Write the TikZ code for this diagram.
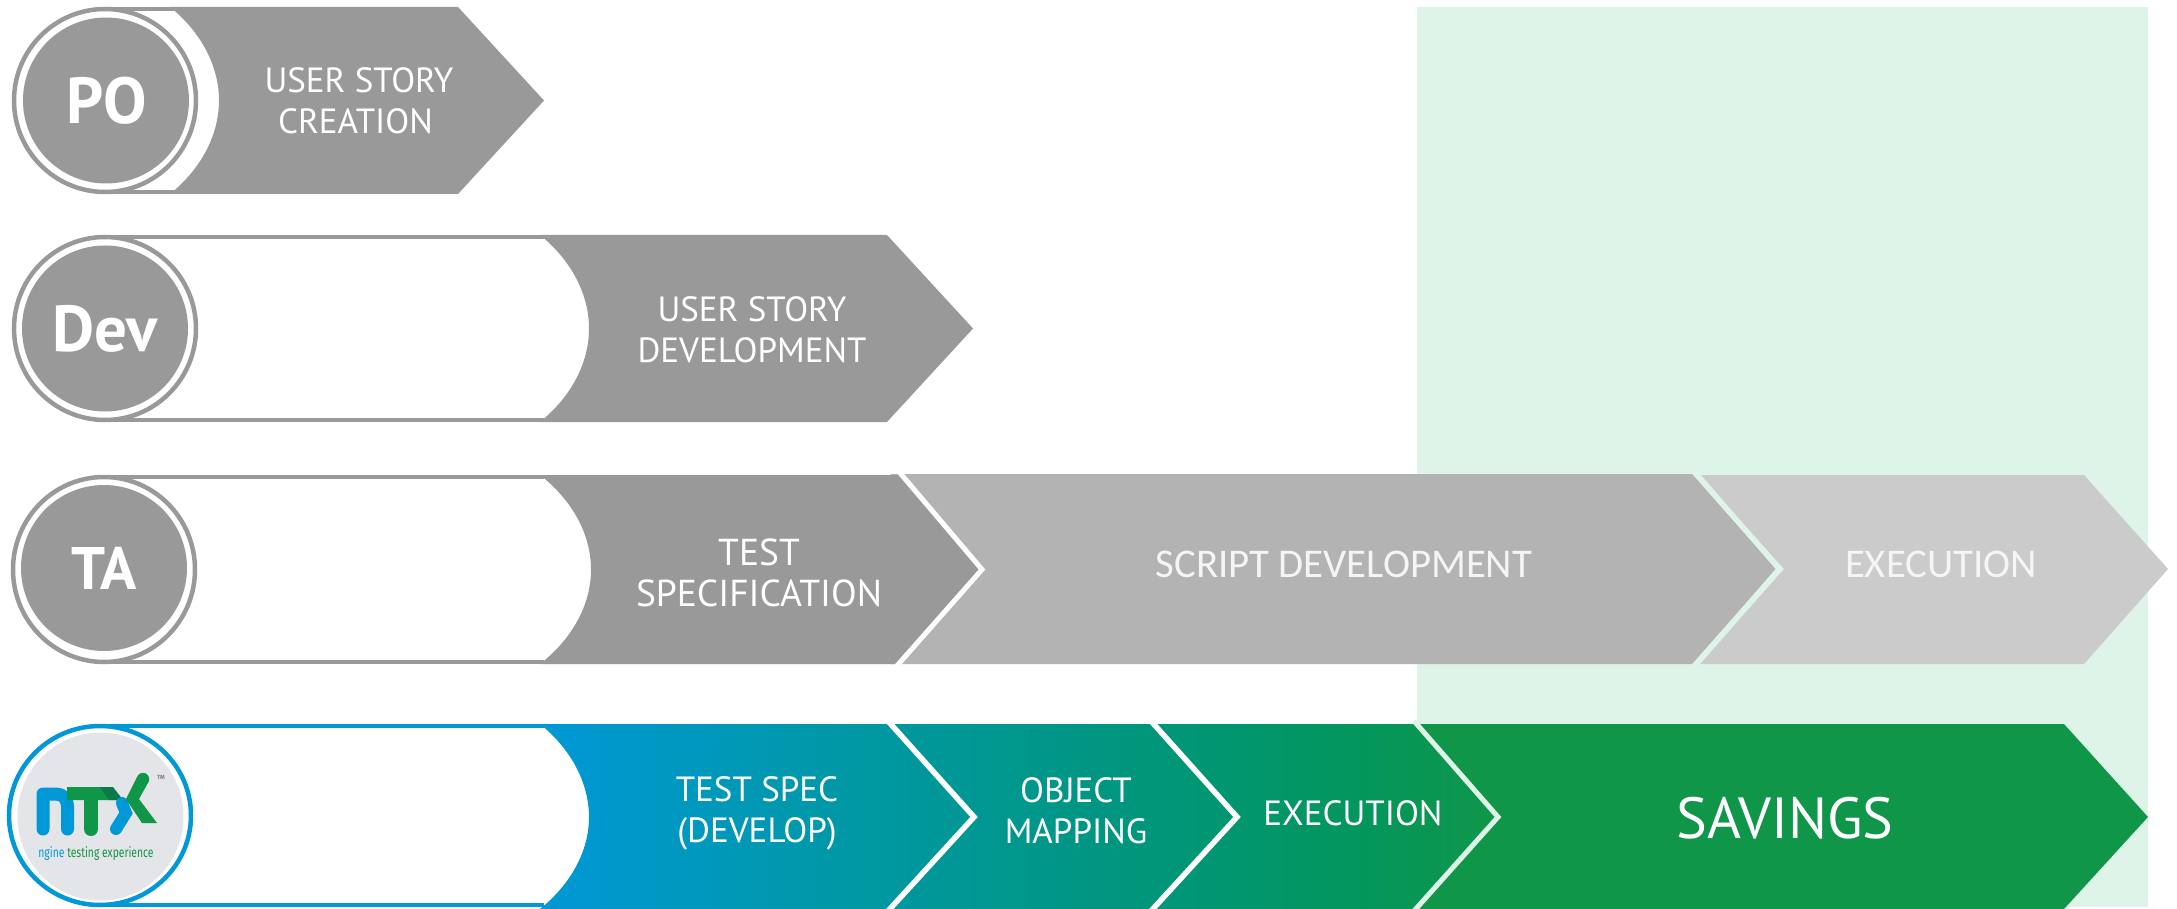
\documentclass[tikz,border=0pt]{standalone}
\usepackage{fontspec}
\setmainfont{PT Sans}
\newfontfamily\calib{Carlito}
\newfontfamily\logofont{Fira Sans}
\usetikzlibrary{calc}
\definecolor{gA}{HTML}{999999}
\definecolor{gB}{HTML}{B3B3B3}
\definecolor{gC}{HTML}{CBCBCB}
\definecolor{mint}{HTML}{DEF4E8}
\definecolor{grn}{HTML}{109649}
\definecolor{blu}{HTML}{0098D6}
\definecolor{lgray}{HTML}{E4E5E9}
\definecolor{dkg}{HTML}{0B7A46}
\definecolor{gradA}{HTML}{0098A8}
\definecolor{gradB}{HTML}{00967F}
\definecolor{gradC}{HTML}{03965C}
\pgfdeclarehorizontalshading{bandgrad}{100bp}{
  color(0bp)=(blu); color(25bp)=(blu);
  color(40bp)=(gradA);
  color(55bp)=(gradB);
  color(68bp)=(gradC);
  color(75bp)=(grn); color(100bp)=(grn)}
\tikzset{
  lab/.style={text=white,align=center,inner sep=0pt,font=\fontsize{35}{41}\selectfont},
  labsoft/.style={text=white!92!gray,align=center,inner sep=0pt,font=\fontsize{40.8}{40.8}\calib\selectfont},
  badge/.style={text=white,inner sep=0pt,font=\fontsize{65}{65}\selectfont\bfseries},
  chev/.style={line width=5.5pt,white,line join=miter},
  keyline/.style={line width=5pt,mint,line join=miter}
}
% #1 top #2 bottom #3 cx #4 rx #5 colour #6 arc top x
\newcommand\laneframe[6]{%
  \pgfmathsetmacro\mym{(#1+#2)/2}%
  \pgfmathsetmacro\myh{(#2-#1)/2}%
  \path[draw=#5,line width=4pt] (#3,#1+2) -- (#6+4,#1+2) (#3,#2-2) -- (#6+4,#2-2);
  \draw[#5,line width=4.5pt,fill=white] (#3,\mym) ellipse [x radius=#4-2,y radius=\myh-2];
}
\begin{document}
\begin{tikzpicture}[x=1pt,y=-1pt]
\useasboundingbox (0,0) rectangle (2177,909);
\fill[mint] (1417,7) rectangle (2148,907);

% Row 1
\laneframe{7}{194}{105}{93}{gA}{170}
\fill[gA] (170,7) .. controls (201,32) and (219,66) .. (219,100.5) .. controls (219,135) and (201,169) .. (170,194) -- (458,194) -- (544,100.5) -- (458,7) -- cycle;
\node[lab] (story1) at (359,101) {USER STORY\\CREATION\hspace*{7pt}};
\fill[gA] (106,100.5) circle [radius=83];
\node[badge] (po) at (107,100.5) {PO};

% Row 2
\laneframe{235}{422}{105}{93}{gA}{540}
\fill[gA] (540,235) .. controls (571,260) and (589,294) .. (589,328.5) .. controls (589,363) and (571,397) .. (540,422) -- (887,422) -- (973,328.5) -- (887,235) -- cycle;
\node[lab] (story2) at (752,330) {USER STORY\\DEVELOPMENT};
\fill[gA] (105,328.5) circle [radius=83];
\node[badge] (dev) at (105,328.5) {Dev};

% Row 3
\fill[gC] (1700,475) -- (2084,475) -- (2168,569) -- (2084,664) -- (1700,664) -- (1784,569) -- cycle;
\fill[gB] (890,474) -- (1692,474) -- (1776,569) -- (1692,664) -- (890,664) -- (984,569) -- cycle;
\draw[keyline] (1695,472) -- (1779,569) -- (1695,666);
\laneframe{475}{664}{104}{93}{gA}{540}
\fill[gA] (540,475) .. controls (572,500) and (591,534) .. (591,569.5) .. controls (591,605) and (572,639) .. (540,664) -- (898,664) -- (980,569.5) -- (898,475) -- cycle;
\draw[line width=5pt,white] (895,467) -- (982,569.5) -- (895,668);
\node[lab,font=\fontsize{37.5}{41}\selectfont] (spec) at (759,572.5) {TEST\\SPECIFICATION};
\node[labsoft] (script) at (1344,564) {SCRIPT DEVELOPMENT};
\node[labsoft] (exec1) at (1941,564) {EXECUTION};
\fill[gA] (104,568) circle [radius=83];
\node[badge,font=\fontsize{60}{60}\selectfont\bfseries] (ta) at (104,568) {TA};

% Row 4
\laneframe{724}{907}{100}{93}{blu}{540}
\path[shading=bandgrad]
  (540,724) .. controls (571,749) and (589,783) .. (589,817) .. controls (589,851) and (571,884) .. (540,909) -- (1412,909) -- (1498,817) -- (1412,724) -- cycle;
\fill[grn] (1411,724) -- (2064,724) -- (2148,817) -- (2064,909) -- (1411,909) -- (1497,817) -- cycle;
\draw[chev] (888,721) -- (974,817) -- (888,911);
\draw[chev] (1151,721) -- (1237,817) -- (1151,911);
\draw[keyline] (1414,721) -- (1498,817) -- (1414,911);
\node[lab] (spec2) at (757,813) {TEST SPEC\\(DEVELOP)};
\node[lab] (objm) at (1076,810.5) {OBJECT\\MAPPING};
\node[lab] (exec2) at (1353,813) {EXECUTION};
\node[lab,font=\fontsize{58}{58}\selectfont] (sav) at (1785,818) {SAVINGS};

% Logo
\fill[lgray] (100.5,816.5) ellipse [x radius=83,y radius=84];
\draw[blu,line width=13pt,line cap=round,line join=round] (43,829) -- (43,794) -- (56,794) .. controls (63,794) and (67.5,799) .. (67.5,806) -- (67.5,829);
\fill[grn] (67,787) -- (112,787) -- (123,800) -- (67,800) -- cycle;
\draw[grn,line width=14pt,line cap=round] (91,795) -- (91,829);
\fill[dkg] (100,787) -- (113,787) -- (123,800) -- (109,800) -- cycle;
\draw[blu,line width=12pt,line cap=round,line join=miter] (122,803) -- (126,813) -- (116,829);
\fill[grn] (137,777) -- (149,781) -- (139,799) -- (157,823) -- (142,823) -- (126,799) -- cycle;
\fill[grn] (143,779) circle [radius=6.2];
\node[inner sep=0pt,font=\fontsize{14}{14}\logofont\selectfont,anchor=base,xscale=0.74] (lg1) at (96,857) {\textcolor{blu}{ngine} \textcolor{grn}{testing experience}};
\node[inner sep=0pt,text=gray,font=\fontsize{6}{6}\logofont\selectfont\bfseries] (tm) at (161,777) {TM};
\end{tikzpicture}
\end{document}
